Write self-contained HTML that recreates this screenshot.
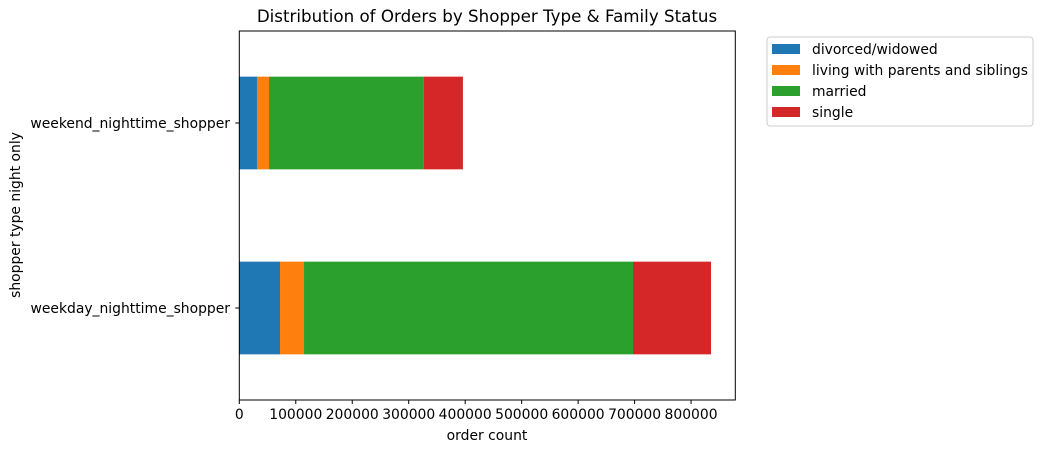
<!DOCTYPE html>
<html><head><meta charset="utf-8"><style>
body{margin:0;background:#fff}
svg text{font-family:"DejaVu Sans","Liberation Sans",sans-serif;fill:#000}
</style></head><body>
<svg id="chart" width="1042" height="453" xmlns="http://www.w3.org/2000/svg">
<text x="487" y="22" font-size="16.7" text-anchor="middle">Distribution of Orders by Shopper Type &amp; Family Status</text>
<g id="bars"></g>
<g id="axes"></g>
<rect x="239.3" y="31" width="496" height="369" fill="none" stroke="#000" stroke-width="1"/>
<text x="487" y="440" font-size="13.9" text-anchor="middle">order count</text>
<text transform="translate(20,215) rotate(-90)" font-size="13.9" text-anchor="middle">shopper type night only</text>
<g>
<rect x="767" y="37" width="266" height="89" rx="3" fill="#fff" stroke="#ccc"/>
<g id="legend-items"></g>
</g>
</svg>
<script>
const categories = ["weekday_nighttime_shopper","weekend_nighttime_shopper"];
const seriesNames = ["divorced/widowed","living with parents and siblings","married","single"];
const divorced = [72100, 31300];
const livingWithParents = [42500, 21300];
const married = [582600, 273900];
const single = [138100, 69500];
const xTicks = [0,100000,200000,300000,400000,500000,600000,700000,800000];
const colors = ["#1f77b4","#ff7f0e","#2ca02c","#d62728"];
const series = [divorced, livingWithParents, married, single];
const NS="http://www.w3.org/2000/svg";
const x0=239.3, pxPer=56.47/100000;
const xs=v=>x0+v*pxPer;
const ys=i=>308 - i*185;
const bh=92.7;
const bars=document.getElementById('bars');
categories.forEach((c,i)=>{
  let acc=0;
  series.forEach((s,k)=>{
    const r=document.createElementNS(NS,'rect');
    r.setAttribute('x',xs(acc));r.setAttribute('width',xs(acc+s[i])-xs(acc));
    r.setAttribute('y',ys(i)-bh/2);r.setAttribute('height',bh);
    r.setAttribute('fill',colors[k]);
    
    
    bars.appendChild(r);acc+=s[i];
  });
});
const axes=document.getElementById('axes');
xTicks.forEach(t=>{
  const l=document.createElementNS(NS,'line');
  l.setAttribute('x1',xs(t));l.setAttribute('x2',xs(t));l.setAttribute('y1',400);l.setAttribute('y2',404);
  l.setAttribute('stroke','#000');
  
  
  axes.appendChild(l);
  const tx=document.createElementNS(NS,'text');
  tx.setAttribute('x',xs(t));tx.setAttribute('y',419);tx.setAttribute('font-size','13.9');tx.setAttribute('text-anchor','middle');
  tx.textContent=t;
  
  
  axes.appendChild(tx);
});
categories.forEach((c,i)=>{
  const l=document.createElementNS(NS,'line');
  l.setAttribute('x1',235.3);l.setAttribute('x2',239.3);l.setAttribute('y1',ys(i));l.setAttribute('y2',ys(i));
  l.setAttribute('stroke','#000');
  
  
  axes.appendChild(l);
  const tx=document.createElementNS(NS,'text');
  tx.setAttribute('x',230);tx.setAttribute('y',ys(i)+5);tx.setAttribute('font-size','13.9');tx.setAttribute('text-anchor','end');
  tx.textContent=c;
  
  
  axes.appendChild(tx);
});
const lg=document.getElementById('legend-items');
seriesNames.forEach((n,k)=>{
  const y=44+k*21;
  const r=document.createElementNS(NS,'rect');
  r.setAttribute('x',772);r.setAttribute('y',y);r.setAttribute('width',28);r.setAttribute('height',10);r.setAttribute('fill',colors[k]);
  
  
  lg.appendChild(r);
  const tx=document.createElementNS(NS,'text');
  tx.setAttribute('x',812);tx.setAttribute('y',y+10);tx.setAttribute('font-size','13.9');
  tx.textContent=n;
  
  
  lg.appendChild(tx);
});
</script>
</body></html>
